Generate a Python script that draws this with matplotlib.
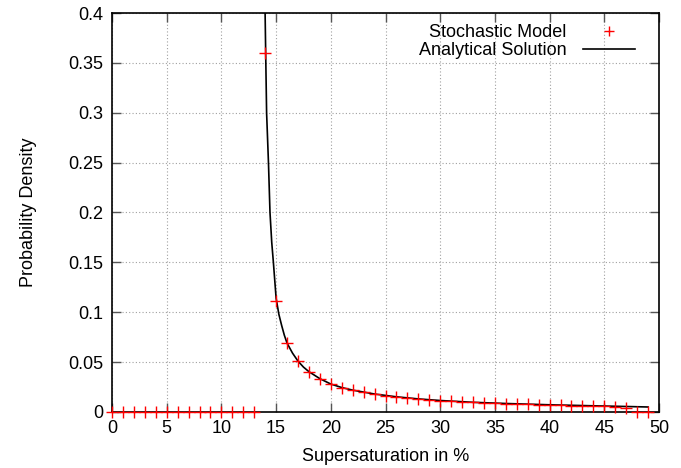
import matplotlib
matplotlib.use("Agg")
import matplotlib.pyplot as plt

plt.rcParams['font.family'] = ['Liberation Sans', 'DejaVu Sans']

# stochastic model samples (supersaturation in %, density)
stoch_x = list(range(0, 50))
stoch_y = [0, 0, 0, 0, 0, 0, 0, 0, 0, 0, 0, 0, 0, 0,
           0.360, 0.111, 0.0695, 0.0511, 0.0404, 0.0334, 0.0277, 0.0244,
           0.0221, 0.0197, 0.0177, 0.0164, 0.0150, 0.0141, 0.0127, 0.0118,
           0.0112, 0.0107, 0.0102, 0.0096, 0.0091, 0.0087, 0.0084, 0.0080,
           0.0077, 0.0074, 0.0070, 0.0067, 0.0064, 0.0061, 0.0058, 0.0055,
           0.0051, 0.0035, 0, 0]

# analytical curve
curve_x = [13.98, 14.02, 14.06, 14.13, 14.3, 14.44, 14.6, 14.75, 15.0, 15.25,
           15.5, 15.75, 16.0, 16.5, 17.0, 17.5, 18.0, 19.0, 20.0, 21.0, 22.0,
           24.0, 26.0, 28.0, 30.0, 33.0, 36.0, 40.0, 44.0, 47.0, 49.0]
curve_y = [0.41, 0.38, 0.35, 0.30, 0.25, 0.20, 0.17, 0.15, 0.114, 0.098,
           0.087, 0.077, 0.069, 0.059, 0.051, 0.045, 0.0404, 0.0334, 0.0280,
           0.0245, 0.0219, 0.0180, 0.0152, 0.0131, 0.0115, 0.0097, 0.0085,
           0.0072, 0.0062, 0.0055, 0.0050]

fig = plt.figure(figsize=(6.81, 4.68), dpi=100)
ax = fig.add_axes([0.1645, 0.1197, 0.8032, 0.8525])

ax.plot(stoch_x, stoch_y, linestyle='none', marker='+', color='red',
        markersize=8, markeredgewidth=1.0, clip_on=False, zorder=4,
        label='Stochastic Model')
ax.plot(curve_x, curve_y, color='black', linewidth=1.2, zorder=3,
        label='Analytical Solution')

ax.set_xlim(0, 50)
ax.set_ylim(0, 0.4)
ax.set_xticks(range(0, 51, 5))
ax.set_yticks([0, 0.05, 0.1, 0.15, 0.2, 0.25, 0.3, 0.35, 0.4])
ax.set_yticklabels(['0', '0.05', '0.1', '0.15', '0.2', '0.25', '0.3', '0.35', '0.4'])

ax.grid(True, color='#a0a0a0', linestyle=(0, (1, 2)), linewidth=0.8)
ax.tick_params(direction='in', length=6.5, width=1.0, top=True, right=True,
               labelsize=13, pad=6, color='#555555')
for s in ax.spines.values():
    s.set_linewidth(1.2)

ax.set_xlabel('Supersaturation in %', fontsize=13, labelpad=8)
ax.set_ylabel('Probability Density', fontsize=13, labelpad=23)

leg = ax.legend(loc='upper right', bbox_to_anchor=(0.956, 0.972),
                frameon=False, markerfirst=False, fontsize=13,
                handlelength=2.9, handletextpad=0.9, labelspacing=0.05,
                borderaxespad=0, borderpad=0)
leg.legend_handles[0].set_markersize(7)

fig.savefig('out.png', dpi=100)
